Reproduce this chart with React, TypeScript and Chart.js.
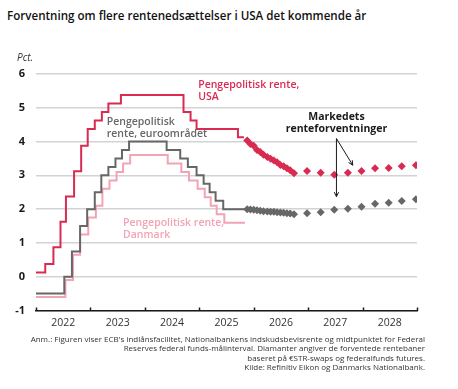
import React, { useEffect, useRef } from "react";
import { Chart, registerables } from "chart.js";

Chart.register(...registerables);

const FONT = '"Open Sans", "Noto Sans", sans-serif';
const RED = "#d92a52";
const GRAY = "#676767";
const PINK = "#f2a3b4";

// Federal Reserve target range midpoint (step dates in fractional years, new level)
const usDates = [2022.0, 2022.17, 2022.32, 2022.45, 2022.55, 2022.7, 2022.83, 2022.95, 2023.08, 2023.21, 2023.33, 2023.56, 2024.71, 2024.84, 2024.95, 2025.71, 2025.82];
const usRates = [0.125, 0.375, 0.875, 1.625, 2.375, 3.125, 3.875, 4.375, 4.625, 4.875, 5.125, 5.375, 4.875, 4.625, 4.375, 4.125, 4.125];

// ECB deposit facility
const euDates = [2022.0, 2022.52, 2022.66, 2022.81, 2022.94, 2023.08, 2023.2, 2023.33, 2023.46, 2023.58, 2023.71, 2024.4, 2024.65, 2024.79, 2024.95, 2025.08, 2025.19, 2025.3, 2025.44, 2025.84];
const euRates = [-0.5, 0.0, 0.75, 1.5, 2.0, 2.5, 3.0, 3.25, 3.5, 3.75, 4.0, 3.75, 3.5, 3.25, 3.0, 2.75, 2.5, 2.25, 2.0, 2.0];

// Danmarks Nationalbank current-account / CD rate
const dkDates = [2022.0, 2022.54, 2022.68, 2022.81, 2022.96, 2023.1, 2023.22, 2023.35, 2023.48, 2023.6, 2023.73, 2024.42, 2024.67, 2024.81, 2024.97, 2025.1, 2025.21, 2025.32, 2025.46, 2025.84];
const dkRates = [-0.6, -0.1, 0.65, 1.25, 1.75, 2.1, 2.6, 2.85, 3.1, 3.35, 3.6, 3.35, 3.1, 2.85, 2.6, 2.35, 2.1, 1.85, 1.6, 1.6];

// Market expectations (diamonds)
const fcDates = [2025.88, 2025.94, 2026.0, 2026.06, 2026.12, 2026.18, 2026.25, 2026.31, 2026.37, 2026.43, 2026.49, 2026.55, 2026.61, 2026.67, 2026.74, 2026.98, 2027.23, 2027.48, 2027.73, 2027.98, 2028.23, 2028.48, 2028.72, 2028.98];
const usForecast = [4.03, 3.93, 3.88, 3.75, 3.69, 3.61, 3.54, 3.49, 3.44, 3.39, 3.31, 3.27, 3.21, 3.15, 3.06, 3.13, 3.08, 3.02, 3.08, 3.13, 3.21, 3.22, 3.27, 3.3];
const euForecast = [2.0, 1.99, 1.98, 1.97, 1.95, 1.94, 1.93, 1.92, 1.92, 1.91, 1.9, 1.89, 1.88, 1.87, 1.85, 1.88, 1.91, 1.98, 2.01, 2.07, 2.16, 2.19, 2.24, 2.29];

const years = [2022, 2023, 2024, 2025, 2026, 2027, 2028];
const yTicks = [-1, 0, 1, 2, 3, 4, 5, 6];

const zip = (xs: number[], ys: number[]) => xs.map((x, i) => ({ x, y: ys[i] }));

type Label = { lines: string[]; x: number; y: number; color: string; align: CanvasTextAlign; weight: string };
const labels: Label[] = [
  { lines: ["Pengepolitisk rente,", "USA"], x: 2024.98, y: 5.67, color: RED, align: "left", weight: "600" },
  { lines: ["Pengepolitisk", "rente, euroområdet"], x: 2023.3, y: 4.57, color: GRAY, align: "left", weight: "600" },
  { lines: ["Pengepolitisk rente,", "Danmark"], x: 2023.6, y: 1.58, color: PINK, align: "left", weight: "600" },
  { lines: ["Markedets", "renteforventninger"], x: 2027.52, y: 4.73, color: "#1a1a1a", align: "center", weight: "700" },
];
const arrowStart = { x: 2027.52, y: 4.09 };
const arrowEnds = [
  { x: 2027.52, y: 2.37 },
  { x: 2027.82, y: 3.3 },
];

const decoPlugin = {
  id: "deco",
  afterDraw(chart: any) {
    const ctx = chart.ctx as CanvasRenderingContext2D;
    const xs = chart.scales.x;
    const ys = chart.scales.y;
    const area = chart.chartArea;
    ctx.save();
    // year tick marks on the x axis
    ctx.strokeStyle = "#1a1a1a";
    ctx.lineWidth = 1.5;
    [...years, 2029].forEach((yr) => {
      const px = Math.round(xs.getPixelForValue(yr)) + 0.5;
      ctx.beginPath();
      ctx.moveTo(px, area.bottom - 3);
      ctx.lineTo(px, area.bottom + 0.5);
      ctx.stroke();
    });
    // unit label
    ctx.fillStyle = "#333";
    ctx.font = `italic 10px ${FONT}`;
    ctx.textAlign = "left";
    ctx.textBaseline = "middle";
    ctx.fillText("Pct.", 17, area.top - 15.5);
    // text labels
    labels.forEach((l) => {
      ctx.fillStyle = l.color;
      ctx.font = `${l.weight} 10.5px ${FONT}`;
      ctx.textAlign = l.align;
      const px = xs.getPixelForValue(l.x);
      const py = ys.getPixelForValue(l.y);
      l.lines.forEach((line, i) => ctx.fillText(line, px, py + i * 11.8));
    });
    // arrows
    ctx.strokeStyle = "#1a1a1a";
    ctx.lineWidth = 1;
    const sx = xs.getPixelForValue(arrowStart.x);
    const sy = ys.getPixelForValue(arrowStart.y);
    arrowEnds.forEach((e) => {
      const ex = xs.getPixelForValue(e.x);
      const ey = ys.getPixelForValue(e.y);
      ctx.beginPath();
      ctx.moveTo(sx, sy);
      ctx.lineTo(ex, ey);
      ctx.stroke();
      const ang = Math.atan2(ey - sy, ex - sx);
      const h = 5;
      ctx.beginPath();
      ctx.moveTo(ex - h * Math.cos(ang - 0.45), ey - h * Math.sin(ang - 0.45));
      ctx.lineTo(ex, ey);
      ctx.lineTo(ex - h * Math.cos(ang + 0.45), ey - h * Math.sin(ang + 0.45));
      ctx.stroke();
    });
    ctx.restore();
  },
};

export default function App() {
  const ref = useRef<HTMLCanvasElement>(null);
  useEffect(() => {
    if (!ref.current) return;
    const diamond = (color: string) => ({
      showLine: false,
      pointStyle: "rectRot" as const,
      pointRadius: 4,
      pointBackgroundColor: color,
      pointBorderColor: color,
      pointBorderWidth: 0,
      backgroundColor: color,
      borderColor: color,
    });
    const stepLine = (color: string) => ({
      stepped: "before" as const,
      borderColor: color,
      borderWidth: 2,
      pointRadius: 0,
      fill: false,
    });
    const chart = new Chart(ref.current, {
      type: "line",
      data: {
        datasets: [
          { label: "USA forventning", data: zip(fcDates, usForecast), ...diamond(RED) },
          { label: "Euro forventning", data: zip(fcDates, euForecast), ...diamond(GRAY) },
          { label: "USA", data: zip(usDates, usRates), ...stepLine(RED) },
          { label: "Euroområdet", data: zip(euDates, euRates), ...stepLine(GRAY) },
          { label: "Danmark", data: zip(dkDates, dkRates), ...stepLine(PINK) },
        ],
      },
      options: {
        animation: false,
        responsive: false,
        devicePixelRatio: 1,
        events: [],
        layout: { padding: { left: 0, top: 74, right: 41, bottom: 48.5 } },
        plugins: { legend: { display: false }, tooltip: { enabled: false } },
        scales: {
          x: {
            type: "linear",
            min: 2022,
            max: 2029,
            afterBuildTicks: (scale: any) => {
              scale.ticks = years.map((y) => ({ value: y + 0.5 }));
            },
            afterFit: (scale: any) => {
              scale.height = 30;
            },
            grid: { display: false, drawTicks: false },
            border: { display: true, color: "#1a1a1a", width: 1.5 },
            ticks: {
              autoSkip: false,
              maxRotation: 0,
              padding: 6,
              color: "#333",
              font: { family: FONT, size: 10.5 },
              callback: (v: any) => String(Math.floor(Number(v))),
            },
          },
          y: {
            min: -1,
            max: 6,
            afterBuildTicks: (scale: any) => {
              scale.ticks = yTicks.map((v) => ({ value: v }));
            },
            afterFit: (scale: any) => {
              scale.width = 36;
            },
            grid: { color: "#d3d3d3", lineWidth: 1.5, drawTicks: false },
            border: { display: false },
            ticks: {
              padding: 11,
              color: "#1a1a1a",
              font: { family: FONT, size: 11, weight: "bold" },
            },
          },
        },
      },
      plugins: [decoPlugin],
    });
    return () => chart.destroy();
  }, []);

  return (
    <div style={{ position: "fixed", left: 0, top: 0, width: 458, height: 389, background: "#fff", overflow: "hidden" }}>
      <div
        style={{
          position: "absolute",
          left: 7,
          top: 8,
          fontFamily: FONT,
          fontSize: 11.6,
          lineHeight: "16px",
          fontWeight: 600,
          color: "#111",
          whiteSpace: "nowrap",
        }}
      >
        Forventning om flere rentenedsættelser i USA det kommende år
      </div>
      <canvas ref={ref} width={458} height={389} style={{ position: "absolute", left: 0, top: 0, width: 458, height: 389 }} />
      <div
        style={{
          position: "absolute",
          right: 33,
          top: 333.5,
          fontFamily: FONT,
          fontSize: 8,
          lineHeight: "9.5px",
          color: "#333",
          textAlign: "right",
          whiteSpace: "nowrap",
        }}
      >
        Anm.: Figuren viser ECB's indlånsfacilitet, Nationalbankens indskudsbevisrente og midtpunktet for Federal
        <br />
        Reserves federal funds-målinterval. Diamanter angiver de forventede rentebaner
        <br />
        baseret på €STR-swaps og federalfunds futures.
        <br />
        Kilde: Refinitiv Eikon og Danmarks Nationalbank.
      </div>
    </div>
  );
}
